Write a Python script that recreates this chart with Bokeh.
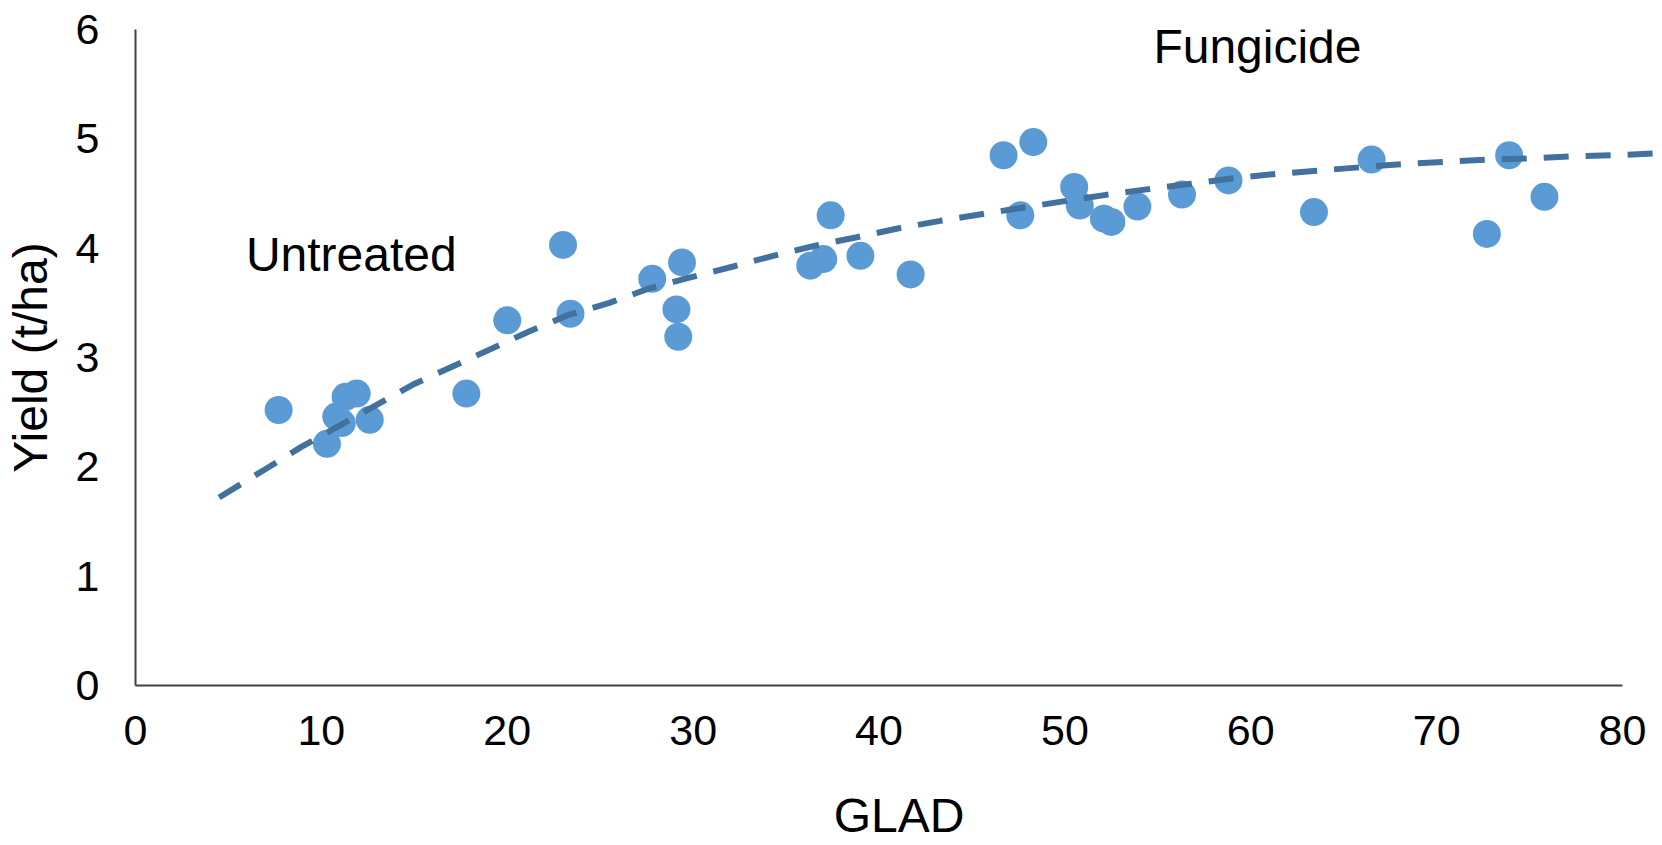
from bokeh.plotting import figure
from bokeh.models import Range1d, FixedTicker, Label
from bokeh.embed import file_html
from bokeh.resources import INLINE

# ---- data ----
glad = [7.7, 10.3, 10.8, 11.1, 11.3, 11.9, 12.6, 17.8, 20.0, 23.0, 23.4, 27.8,
        29.4, 29.1, 29.2, 36.3, 37.0, 37.4, 39.0, 41.7, 46.7, 48.3, 47.6, 50.5,
        50.8, 52.1, 52.5, 53.9, 56.3, 58.8, 63.4, 66.5, 72.7, 73.9, 75.8]
yield_t = [2.52, 2.21, 2.46, 2.40, 2.64, 2.67, 2.43, 2.67, 3.34, 4.03, 3.40, 3.72,
           3.87, 3.44, 3.19, 3.84, 3.90, 4.30, 3.93, 3.76, 4.85, 4.97, 4.30, 4.56,
           4.39, 4.27, 4.24, 4.38, 4.49, 4.62, 4.33, 4.81, 4.13, 4.85, 4.47]

# trendline
trend_glad = [4.5, 7.0, 8.9, 10.9, 13.0, 14.9, 21.2, 23.3, 25.5, 27.6, 29.8, 32.1,
              34.3, 36.5, 38.8, 41.0, 43.3, 45.5, 47.7, 50.0, 52.3, 54.5, 56.8,
              59.1, 61.4, 63.7, 65.9, 68.2, 70.5, 72.8, 75.0, 77.3, 79.6, 82.1]
trend_yield = [1.72, 1.98, 2.18, 2.37, 2.57, 2.75, 3.24, 3.39, 3.50, 3.63, 3.73, 3.83,
               3.93, 4.02, 4.10, 4.18, 4.25, 4.31, 4.37, 4.43, 4.49, 4.54, 4.59,
               4.64, 4.68, 4.71, 4.74, 4.77, 4.79, 4.81, 4.82, 4.84, 4.85, 4.87]

x_ticks = [0, 10, 20, 30, 40, 50, 60, 70, 80]
y_ticks = [0, 1, 2, 3, 4, 5, 6]
x_title = "GLAD"
y_title = "Yield (t/ha)"
group_labels = ["Untreated", "Fungicide"]
group_label_x = [5.94, 54.76]
group_label_y = [3.94, 5.84]

FONT = "Liberation Sans"
POINT_COLOR = "#5B9BD5"
TREND_COLOR = "#41719C"
AXIS_COLOR = "#404040"

p = figure(width=1662, height=845, output_backend="svg", toolbar_location=None,
           x_range=Range1d(0, 82.15), y_range=Range1d(0, 6),
           min_border_left=134, min_border_right=0, min_border_top=29,
           min_border_bottom=160)

p.background_fill_color = "white"
p.border_fill_color = "white"
p.outline_line_color = None
p.xgrid.visible = False
p.ygrid.visible = False

for ax in (p.xaxis, p.yaxis):
    ax.axis_line_color = AXIS_COLOR
    ax.axis_line_width = 2
    ax.major_tick_line_color = None
    ax.minor_tick_line_color = None
    ax.major_tick_out = 0
    ax.major_tick_in = 0
    ax.major_label_text_font = FONT
    ax.major_label_text_font_size = "43px"
    ax.major_label_text_color = "black"
    ax.axis_label_text_font = FONT
    ax.axis_label_text_font_size = "48px"
    ax.axis_label_text_font_style = "normal"
    ax.axis_label_text_color = "black"

p.xaxis.ticker = FixedTicker(ticks=x_ticks)
p.yaxis.ticker = FixedTicker(ticks=y_ticks)
p.xaxis.bounds = (x_ticks[0], x_ticks[-1])
p.yaxis.bounds = (y_ticks[0], y_ticks[-1])
p.xaxis.major_label_standoff = 30
p.yaxis.major_label_standoff = 36
p.xaxis.axis_label = x_title
p.xaxis.axis_label_standoff = 41
p.xaxis.axis_label_text_align = "right"
p.yaxis.axis_label = y_title
p.yaxis.axis_label_standoff = 16

p.scatter(glad, yield_t, size=28, fill_color=POINT_COLOR, line_color=None)
p.line(trend_glad, trend_yield, line_color=TREND_COLOR, line_width=6,
       line_dash="25 17")

for txt, lx, ly in zip(group_labels, group_label_x, group_label_y):
    p.add_layout(Label(x=lx, y=ly, text=txt, text_font=FONT,
                       text_font_size="48px", text_color="black",
                       text_align="left", text_baseline="middle"))

open("out.html", "w").write(file_html(p, INLINE))
